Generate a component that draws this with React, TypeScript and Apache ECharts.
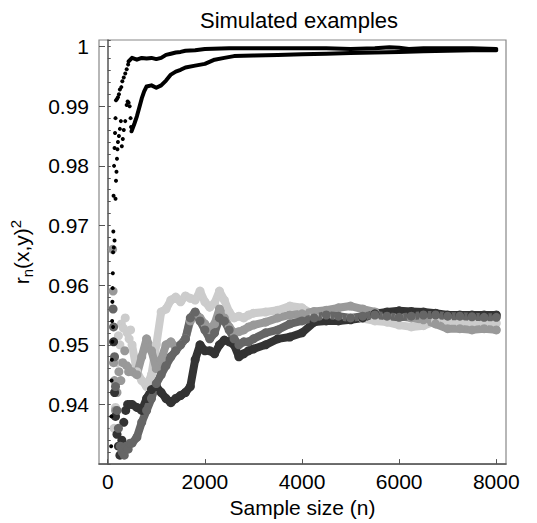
import { useEffect, useRef } from 'react';
import * as echarts from 'echarts';

// ---- data ----
const grayN = [500, 600, 700, 800, 900, 1000, 1100, 1200, 1300, 1400, 1500, 1600, 1700, 1800, 1900, 2000, 2100, 2200, 2300, 2400, 2500, 2600, 2700, 2800, 2900, 3000, 3250, 3500, 3750, 4000, 4250, 4500, 4750, 5000, 5250, 5500, 5750, 6000, 6250, 6500, 6750, 7000, 7250, 7500, 7750, 8000];

const lightR = [0.9500, 0.9455, 0.9440, 0.9430, 0.9450, 0.9500, 0.9555, 0.9560, 0.9575, 0.9580, 0.9572, 0.9582, 0.9578, 0.9575, 0.9590, 0.9572, 0.9563, 0.9570, 0.9590, 0.9575, 0.9555, 0.9545, 0.9548, 0.9545, 0.9550, 0.9553, 0.9555, 0.9558, 0.9565, 0.9562, 0.9550, 0.9548, 0.9546, 0.9545, 0.9544, 0.9540, 0.9538, 0.9533, 0.9530, 0.9532, 0.9540, 0.9540, 0.9537, 0.9537, 0.9536, 0.9536];
const midR = [0.9455, 0.9450, 0.9480, 0.9510, 0.9490, 0.9460, 0.9475, 0.9500, 0.9505, 0.9495, 0.9500, 0.9510, 0.9540, 0.9553, 0.9545, 0.9535, 0.9525, 0.9535, 0.9560, 0.9545, 0.9530, 0.9520, 0.9522, 0.9525, 0.9530, 0.9533, 0.9538, 0.9545, 0.9550, 0.9552, 0.9556, 0.9558, 0.9562, 0.9565, 0.9560, 0.9555, 0.9550, 0.9548, 0.9545, 0.9542, 0.9535, 0.9527, 0.9527, 0.9525, 0.9527, 0.9525];
const darkR = [0.9335, 0.9345, 0.9370, 0.9390, 0.9410, 0.9435, 0.9450, 0.9465, 0.9480, 0.9490, 0.9500, 0.9510, 0.9545, 0.9555, 0.9540, 0.9525, 0.9510, 0.9520, 0.9545, 0.9540, 0.9525, 0.9510, 0.9500, 0.9505, 0.9505, 0.9510, 0.9520, 0.9525, 0.9535, 0.9540, 0.9545, 0.9550, 0.9548, 0.9545, 0.9548, 0.9550, 0.9548, 0.9546, 0.9548, 0.9550, 0.9550, 0.9548, 0.9548, 0.9547, 0.9546, 0.9546];
const darkestR = [0.9400, 0.9395, 0.9390, 0.9410, 0.9425, 0.9430, 0.9420, 0.9410, 0.9403, 0.9410, 0.9415, 0.9420, 0.9430, 0.9475, 0.9500, 0.9490, 0.9490, 0.9485, 0.9500, 0.9508, 0.9505, 0.9500, 0.9480, 0.9485, 0.9490, 0.9493, 0.9500, 0.9510, 0.9513, 0.9520, 0.9538, 0.9540, 0.9540, 0.9542, 0.9545, 0.9552, 0.9555, 0.9557, 0.9556, 0.9555, 0.9553, 0.9550, 0.9550, 0.9550, 0.9550, 0.9550];

const lightEarly = [[130, 0.9360], [160, 0.9395], [190, 0.9470], [220, 0.9515], [250, 0.9500], [280, 0.9535], [320, 0.9528], [360, 0.9545], [400, 0.9520], [440, 0.9510], [470, 0.9525]];
const midEarly = [[100, 0.9660], [110, 0.9590], [120, 0.9470], [140, 0.9440], [160, 0.9390], [190, 0.9420], [230, 0.9455], [270, 0.9440], [310, 0.9470], [350, 0.9490], [390, 0.9465], [430, 0.9455], [470, 0.9460]];
const darkEarly = [[110, 0.9560], [120, 0.9530], [140, 0.9480], [160, 0.9430], [190, 0.9390], [220, 0.9360], [260, 0.9330], [300, 0.9320], [340, 0.9315], [380, 0.9330], [420, 0.9325], [460, 0.9335]];
const darkestEarly = [[120, 0.9505], [140, 0.9420], [160, 0.9380], [190, 0.9350], [220, 0.9330], [250, 0.9315], [290, 0.9340], [330, 0.9370], [370, 0.9390], [410, 0.9400], [450, 0.9400]];

const blackAEarly = [[70, 0.9330], [80, 0.9440], [85, 0.9475], [90, 0.9540], [95, 0.9572], [100, 0.9595], [105, 0.9620], [110, 0.9655], [115, 0.9690], [120, 0.9750], [130, 0.9800], [140, 0.9830], [150, 0.9855], [160, 0.9880], [170, 0.9910], [190, 0.9912], [210, 0.9915], [230, 0.9920], [250, 0.9928], [280, 0.9932], [300, 0.9942], [330, 0.9948], [360, 0.9955], [390, 0.9962], [420, 0.9970]];
const blackBEarly = [[75, 0.9380], [95, 0.9505], [110, 0.9530], [125, 0.9663], [140, 0.9675], [160, 0.9745], [170, 0.9775], [180, 0.9790], [190, 0.9812], [200, 0.9828], [210, 0.9840], [230, 0.9850], [250, 0.9862], [270, 0.9875], [290, 0.9833], [310, 0.9845], [330, 0.9860], [360, 0.9875], [390, 0.9902], [410, 0.9908], [430, 0.9906], [450, 0.9900], [470, 0.9880], [480, 0.9865]];

const blackAN = [430, 500, 600, 700, 800, 900, 1000, 1100, 1200, 1300, 1400, 1500, 1600, 1800, 2000, 2500, 3000, 3500, 4000, 4500, 5000, 5500, 5800, 6000, 6200, 6500, 7000, 7500, 8000];
const blackAR = [0.9975, 0.9981, 0.9978, 0.9981, 0.9980, 0.9981, 0.9979, 0.9981, 0.9986, 0.9988, 0.9990, 0.9991, 0.9993, 0.9994, 0.9996, 0.9997, 0.9997, 0.9997, 0.9997, 0.9997, 0.9996, 0.9997, 0.9999, 0.9998, 0.9996, 0.9997, 0.9997, 0.9997, 0.9996];
const blackBN = [490, 550, 600, 650, 700, 750, 800, 900, 1000, 1100, 1200, 1300, 1400, 1500, 1600, 1800, 2000, 2200, 2400, 2600, 3000, 3500, 4000, 4500, 5000, 5500, 6000, 6500, 7000, 7500, 8000];
const blackBR = [0.9858, 0.9871, 0.9883, 0.9898, 0.9913, 0.9925, 0.9933, 0.9935, 0.9931, 0.9935, 0.9943, 0.9953, 0.9958, 0.9961, 0.9965, 0.9968, 0.9971, 0.9978, 0.9981, 0.9984, 0.9985, 0.9986, 0.9987, 0.9988, 0.9989, 0.9990, 0.9991, 0.9992, 0.9993, 0.9994, 0.9994];

const FONT = 'Liberation Sans';

const pair = (ns: number[], rs: number[]) => ns.map((n, i) => [n, rs[i]]);

const grayLine = (color: string, ns: number[], rs: number[]) => ({
  type: 'line',
  data: pair(ns, rs),
  symbol: 'circle',
  symbolSize: 9,
  showSymbol: true,
  showAllSymbol: true,
  itemStyle: { color, opacity: 1 },
  lineStyle: { color, width: 8, cap: 'round', join: 'round' },
  silent: true,
});
const grayEarly = (color: string, pts: number[][]) => ({
  type: 'scatter',
  data: pts,
  symbolSize: 9,
  itemStyle: { color, opacity: 1 },
  silent: true,
});
const blackLine = (ns: number[], rs: number[]) => ({
  type: 'line',
  data: pair(ns, rs),
  symbol: 'none',
  lineStyle: { color: '#000', width: 4, cap: 'round', join: 'round' },
  silent: true,
});
const blackEarly = (pts: number[][]) => ({
  type: 'scatter',
  data: pts,
  symbolSize: 4,
  itemStyle: { color: '#000', opacity: 1 },
  silent: true,
});

export default function App() {
  const ref = useRef<HTMLDivElement>(null);
  useEffect(() => {
    if (!ref.current) return;
    const chart = echarts.init(ref.current, null, { renderer: 'svg' });
    const yMin = 0.93;
    const yMax = 1.0011;
    chart.setOption({
      animation: false,
      backgroundColor: '#fff',
      textStyle: { fontFamily: FONT },
      graphic: [
        {
          type: 'text',
          x: 299,
          y: 9,
          style: {
            text: 'Simulated examples',
            fontSize: 22,
            fontFamily: FONT,
            fill: '#000',
            align: 'center',
            textAlign: 'center',
            verticalAlign: 'top',
            textVerticalAlign: 'top',
          },
        },
      ],
      grid: {
        left: 95,
        top: 40,
        width: 411,
        height: 425,
        show: true,
        borderColor: '#888',
        borderWidth: 1.2,
        backgroundColor: 'transparent',
      },
      xAxis: {
        type: 'value',
        min: -180,
        max: 8200,
        splitLine: { show: false },
        axisLine: { lineStyle: { color: '#555', width: 1.5 } },
        axisTick: { inside: true, length: 5, lineStyle: { color: '#555' } },
        axisLabel: {
          color: '#000',
          fontSize: 21,
          fontFamily: FONT,
          margin: 7,
          showMinLabel: false,
          showMaxLabel: false,
          formatter: (v: number) => String(Math.round(v)),
        },
        name: 'Sample size (n)',
        nameLocation: 'middle',
        nameGap: 31,
        nameTextStyle: { fontSize: 21, color: '#000', fontFamily: FONT },
      },
      yAxis: [
        {
          type: 'value',
          position: 'left',
          min: yMin,
          max: yMax,
          interval: 0.002,
          splitLine: { show: false },
          axisLine: { lineStyle: { color: '#555', width: 1.5 } },
          axisTick: { inside: true, length: 3, lineStyle: { color: '#555' } },
          axisLabel: { show: false },
        },
        {
          type: 'value',
          position: 'left',
          offset: 0,
          min: yMin,
          max: yMax,
          interval: 0.01,
          splitLine: { show: false },
          axisLine: { show: false },
          axisTick: { inside: true, length: 6, lineStyle: { color: '#555' } },
          axisLabel: {
            color: '#000',
            fontSize: 21,
            fontFamily: FONT,
            margin: 10,
            showMinLabel: false,
            showMaxLabel: false,
            formatter: (v: number) => String(Math.round(v * 100) / 100),
          },
          name: '{a|r}{s|n}{a|(x,y)}{p|2}',
          nameLocation: 'middle',
          nameGap: 64,
          nameTextStyle: {
            color: '#000',
            fontFamily: FONT,
            rich: {
              a: { fontSize: 21, fontFamily: FONT, color: '#000', verticalAlign: 'middle' },
              s: { fontSize: 15, fontFamily: FONT, color: '#000', verticalAlign: 'middle', padding: [12, 0, 0, 0] },
              p: { fontSize: 15, fontFamily: FONT, color: '#000', verticalAlign: 'middle', padding: [0, 0, 12, 0] },
            },
          },
        },
      ],
      series: [
        grayEarly('#cccccc', lightEarly),
        grayLine('#cccccc', grayN, lightR),
        grayEarly('#999999', midEarly),
        grayLine('#999999', grayN, midR),
        grayEarly('#333333', darkestEarly),
        grayLine('#333333', grayN, darkestR),
        grayEarly('#666666', darkEarly),
        grayLine('#666666', grayN, darkR),
        blackEarly(blackAEarly),
        blackLine(blackAN, blackAR),
        blackEarly(blackBEarly),
        blackLine(blackBN, blackBR),
      ],
    });
    return () => chart.dispose();
  }, []);
  return (
    <div
      ref={ref}
      style={{ position: 'absolute', left: 0, top: 0, width: 537, height: 523 }}
    />
  );
}
